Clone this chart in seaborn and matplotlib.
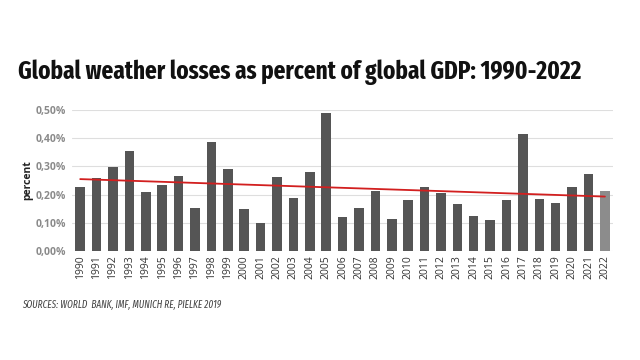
import matplotlib
matplotlib.use("Agg")
import matplotlib.pyplot as plt
import seaborn as sns
import pandas as pd
from matplotlib.ticker import FuncFormatter

years = [str(y) for y in range(1990, 2023)]
losses = [0.227, 0.258, 0.297, 0.355, 0.208, 0.233, 0.265, 0.152, 0.387, 0.291,
          0.148, 0.098, 0.261, 0.189, 0.280, 0.491, 0.122, 0.154, 0.214, 0.113,
          0.180, 0.228, 0.206, 0.167, 0.124, 0.110, 0.180, 0.414, 0.183, 0.169,
          0.228, 0.272, 0.213]
trend_years = ["1990", "2022"]
trend_values = [0.255, 0.193]
y_ticks = [0.0, 0.1, 0.2, 0.3, 0.4, 0.5]

sns.set_theme(style="white")
plt.rcParams['font.family'] = ['Open Sans', 'DejaVu Sans']

df = pd.DataFrame({"year": years, "loss": losses})
colors = ["#555555"] * (len(years) - 1) + ["#8c8c8c"]

fig = plt.figure(figsize=(6.4, 3.6), dpi=100)
ax = fig.add_axes([0.1125, 0.3028, 0.8455, 0.3916])
sns.barplot(data=df, x="year", y="loss", hue="year", palette=colors,
            legend=False, width=0.58, ax=ax, saturation=1, dodge=False,
            linewidth=0)

xpos = [years.index(y) for y in trend_years]
ax.plot(xpos, trend_values, color="#d21f1f", lw=1.3, zorder=5)

ax.set_ylim(0, 0.5)
ax.set_xlim(-0.5, len(years) - 0.5)
ax.set_yticks(y_ticks)
ax.yaxis.set_major_formatter(FuncFormatter(lambda v, p: f"{v:.2f}%".replace(".", ",")))
ax.grid(axis="y", color="#dedede", lw=0.8)
ax.set_axisbelow(True)
for s in ax.spines.values():
    s.set_visible(False)
ax.tick_params(axis="y", labelsize=7.5, labelcolor="#8a8a8a", length=0, pad=4)
ax.tick_params(axis="x", labelsize=7.5, labelcolor="#333333", length=0, pad=3, rotation=90)
for t in ax.get_yticklabels():
    t.set_fontweight("bold")
ax.set_xlabel("")
ax.set_ylabel("percent", fontsize=7.5, fontweight="bold", color="#222222", labelpad=2)

fig.text(0.028, 0.80, "Global weather losses as percent of global GDP: 1990-2022",
         fontsize=18.1, fontweight="bold", color="#111111", va="center", ha="left",
         family=["Fira Sans Extra Condensed", "Fira Sans Condensed", "DejaVu Sans"])
fig.text(0.034, 0.153, "SOURCES: WORLD  BANK, IMF, MUNICH RE, PIELKE 2019",
         fontsize=7.2, style="italic", color="#444444", va="center", ha="left",
         family=["Fira Sans Extra Condensed", "Fira Sans Condensed", "DejaVu Sans"])

fig.savefig("out.png", dpi=100)
